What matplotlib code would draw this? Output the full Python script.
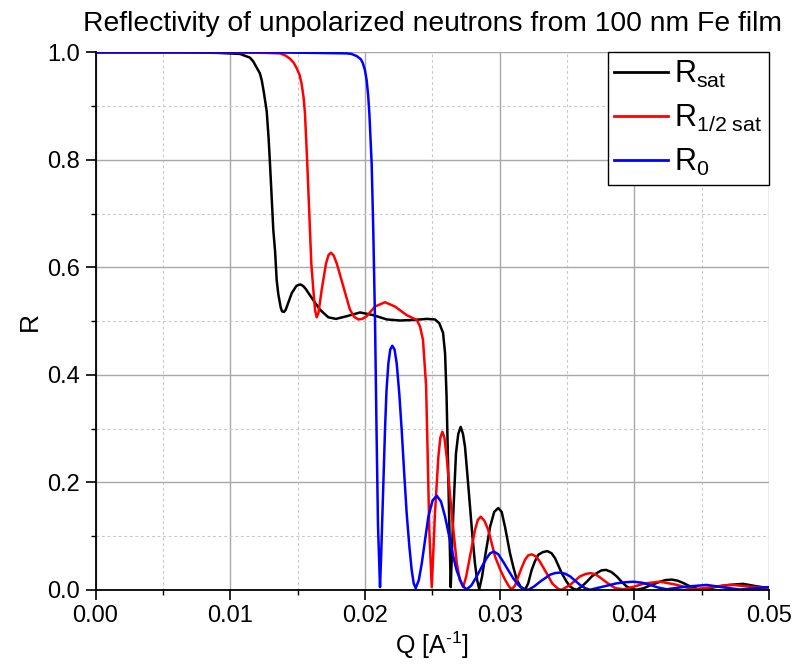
import matplotlib
matplotlib.use("Agg")
import matplotlib.pyplot as plt
from matplotlib.ticker import MultipleLocator, FormatStrFormatter

plt.rcParams['font.family'] = ['Liberation Sans', 'DejaVu Sans']
plt.rcParams['mathtext.fontset'] = 'custom'
plt.rcParams['mathtext.rm'] = 'Liberation Sans'
plt.rcParams['mathtext.it'] = 'Liberation Sans:italic'
plt.rcParams['mathtext.bf'] = 'Liberation Sans:bold'

# ---- data (Q in 1/A, R) ----
q_sat = [0.0, 0.006, 0.009, 0.01073, 0.01147, 0.01171, 0.0122, 0.01234, 0.0125, 0.01271,
         0.01285, 0.01295, 0.0132, 0.01333, 0.01345, 0.01357, 0.01375, 0.01385, 0.01399, 0.01412,
         0.01425, 0.01457, 0.0149, 0.01505, 0.01523, 0.01542, 0.0156, 0.01592, 0.0163, 0.01667,
         0.01728, 0.01785, 0.01865, 0.01964, 0.02062, 0.02162, 0.02261, 0.02359, 0.02459, 0.0252,
         0.02552, 0.0258, 0.02595, 0.02606, 0.02615, 0.02624, 0.02637, 0.02646, 0.02656, 0.02676,
         0.02693, 0.02711, 0.02728, 0.02743, 0.02762, 0.0278, 0.02798, 0.02817, 0.02833, 0.02849,
         0.0287, 0.02892, 0.02929, 0.0296, 0.0299, 0.03015, 0.0304, 0.03077, 0.03102, 0.03127,
         0.03155, 0.03189, 0.03212, 0.03238, 0.03262, 0.03287, 0.0332, 0.03354, 0.03385, 0.03411,
         0.03436, 0.03461, 0.03495, 0.03523, 0.03548, 0.03572, 0.0361, 0.03647, 0.03685, 0.03721,
         0.03755, 0.0379, 0.0383, 0.03869, 0.03905, 0.03944, 0.0398, 0.04018, 0.0407, 0.04117,
         0.04191, 0.0423, 0.04278, 0.0432, 0.0436, 0.044, 0.04438, 0.04475, 0.04512, 0.046,
         0.047, 0.04809, 0.04896, 0.05]
r_sat = [1.0, 1.0, 0.999, 0.997, 0.99, 0.983, 0.961, 0.948, 0.925, 0.89,
         0.84, 0.794, 0.669, 0.63, 0.576, 0.55, 0.525, 0.518, 0.517, 0.521,
         0.53, 0.552, 0.565, 0.567, 0.568, 0.565, 0.56, 0.548, 0.534, 0.521,
         0.507, 0.504, 0.509, 0.516, 0.511, 0.503, 0.501, 0.502, 0.504, 0.503,
         0.496, 0.478, 0.44, 0.36, 0.26, 0.15, 0.005, 0.07, 0.142, 0.254,
         0.29, 0.303, 0.29, 0.266, 0.21, 0.155, 0.10, 0.049, 0.018, 0.001,
         0.025, 0.062, 0.117, 0.145, 0.152, 0.145, 0.117, 0.068, 0.042, 0.019,
         0.006, 0.0, 0.012, 0.037, 0.053, 0.065, 0.07, 0.072, 0.068, 0.059,
         0.045, 0.031, 0.016, 0.006, 0.002, 0.0, 0.006, 0.015, 0.025, 0.031,
         0.036, 0.037, 0.033, 0.025, 0.015, 0.006, 0.002, 0.0, 0.003, 0.008,
         0.015, 0.018, 0.019, 0.017, 0.013, 0.008, 0.004, 0.001, 0.0, 0.005,
         0.009, 0.011, 0.007, 0.003]

q_half = [0.0, 0.009, 0.0125, 0.0137, 0.0141, 0.01444, 0.0147, 0.01494, 0.01515, 0.01531,
          0.01545, 0.01555, 0.01572, 0.01587, 0.01602, 0.01617, 0.0163, 0.01642, 0.01655, 0.01679,
          0.01711, 0.0173, 0.01748, 0.01768, 0.01791, 0.0184, 0.01889, 0.0192, 0.01951, 0.0198,
          0.02013, 0.02075, 0.02149, 0.02223, 0.0231, 0.02385, 0.02409, 0.02431, 0.02454, 0.02465,
          0.02478, 0.02496, 0.02506, 0.0252, 0.02545, 0.0256, 0.02575, 0.0259, 0.02607, 0.02644,
          0.02682, 0.02705, 0.0273, 0.02752, 0.0278, 0.02817, 0.02838, 0.0286, 0.02888, 0.02916,
          0.02966, 0.03005, 0.0304, 0.0307, 0.0309, 0.03115, 0.03139, 0.03165, 0.03189, 0.03212,
          0.03238, 0.0327, 0.033, 0.03332, 0.03362, 0.0339, 0.03424, 0.0344, 0.03461, 0.03523,
          0.0356, 0.03597, 0.03635, 0.03671, 0.0371, 0.03745, 0.03782, 0.0382, 0.0386, 0.0392,
          0.04, 0.0408, 0.04191, 0.043, 0.04438, 0.0455, 0.0466, 0.04735, 0.0485, 0.05]
r_half = [1.0, 1.0, 0.999, 0.998, 0.994, 0.988, 0.981, 0.97, 0.958, 0.94,
          0.915, 0.886, 0.793, 0.70, 0.607, 0.558, 0.52, 0.507, 0.515, 0.558,
          0.607, 0.623, 0.627, 0.622, 0.607, 0.564, 0.521, 0.508, 0.503, 0.504,
          0.509, 0.527, 0.535, 0.527, 0.511, 0.502, 0.49, 0.465, 0.38, 0.26,
          0.11, 0.005, 0.06, 0.142, 0.247, 0.283, 0.294, 0.283, 0.247, 0.142,
          0.049, 0.018, 0.005, 0.025, 0.062, 0.111, 0.13, 0.136, 0.128, 0.111,
          0.062, 0.037, 0.019, 0.006, 0.001, 0.008, 0.025, 0.042, 0.056, 0.064,
          0.066, 0.062, 0.052, 0.038, 0.025, 0.012, 0.004, 0.001, 0.0, 0.009,
          0.017, 0.025, 0.029, 0.031, 0.029, 0.023, 0.016, 0.009, 0.003, 0.001,
          0.006, 0.012, 0.015, 0.01, 0.001, 0.004, 0.008, 0.009, 0.006, 0.003]

q_zero = [0.0, 0.012, 0.016, 0.01865, 0.019, 0.01939, 0.0197, 0.01984, 0.02, 0.02013,
          0.02024, 0.02033, 0.0205, 0.02062, 0.02075, 0.02086, 0.02097, 0.02112, 0.0212, 0.02131,
          0.02149, 0.0216, 0.02174, 0.02188, 0.02203, 0.0222, 0.02236, 0.02255, 0.02273, 0.02292,
          0.0231, 0.0233, 0.02347, 0.02362, 0.02377, 0.024, 0.02422, 0.02446, 0.02471, 0.02502,
          0.02533, 0.02565, 0.02595, 0.02625, 0.02656, 0.0268, 0.02706, 0.0273, 0.02756, 0.0279,
          0.0283, 0.02868, 0.02904, 0.0293, 0.02958, 0.0299, 0.03027, 0.03065, 0.03102, 0.03135,
          0.03164, 0.0319, 0.03213, 0.03255, 0.033, 0.03374, 0.0341, 0.03448, 0.03485, 0.03523,
          0.0356, 0.03597, 0.03635, 0.03671, 0.0377, 0.03869, 0.0393, 0.03993, 0.0406, 0.04117,
          0.0418, 0.0424, 0.04391, 0.04538, 0.04673, 0.04785, 0.04896, 0.05]
r_zero = [1.0, 1.0, 0.999, 0.998, 0.997, 0.993, 0.987, 0.98, 0.967, 0.948,
          0.92, 0.886, 0.793, 0.669, 0.5, 0.3, 0.12, 0.005, 0.06, 0.15,
          0.297, 0.37, 0.421, 0.447, 0.454, 0.447, 0.421, 0.365, 0.297, 0.215,
          0.142, 0.08, 0.037, 0.012, 0.003, 0.018, 0.049, 0.092, 0.136, 0.166,
          0.175, 0.164, 0.136, 0.1, 0.062, 0.037, 0.019, 0.006, 0.001, 0.008,
          0.025, 0.043, 0.059, 0.068, 0.071, 0.066, 0.052, 0.036, 0.021, 0.01,
          0.003, 0.001, 0.0, 0.006, 0.015, 0.028, 0.031, 0.032, 0.03, 0.025,
          0.017, 0.009, 0.003, 0.0, 0.006, 0.012, 0.014, 0.015, 0.013, 0.009,
          0.004, 0.001, 0.006, 0.009, 0.004, 0.0005, 0.003, 0.005]

labels = [r'R$_{\mathrm{sat}}$', r'R$_{\mathrm{1/2\ sat}}$', r'R$_{\mathrm{0}}$']
colors = ['#000000', '#ff0000', '#0000ff']
title = 'Reflectivity of unpolarized neutrons from 100 nm Fe film'

fig = plt.figure(figsize=(7.92, 6.68), dpi=100)
ax = fig.add_axes([0.1206, 0.1171, 0.8504, 0.8046])

for q, r, lab, c in zip([q_sat, q_half, q_zero], [r_sat, r_half, r_zero], labels, colors):
    ax.plot(q, r, color=c, lw=1.8, label=lab, solid_joinstyle='round')

ax.set_xlim(0, 0.05)
ax.set_ylim(0, 1.0)
ax.xaxis.set_major_locator(MultipleLocator(0.01))
ax.xaxis.set_minor_locator(MultipleLocator(0.005))
ax.yaxis.set_major_locator(MultipleLocator(0.2))
ax.yaxis.set_minor_locator(MultipleLocator(0.1))
ax.xaxis.set_major_formatter(FormatStrFormatter('%.2f'))
ax.yaxis.set_major_formatter(FormatStrFormatter('%.1f'))

ax.grid(which='major', color='#a8a8a8', lw=1.0, ls='-')
ax.grid(which='minor', color='#c8c8c8', lw=0.8, ls=(0, (2.5, 2.5)))
ax.set_axisbelow(True)

for s in ['top', 'right']:
    ax.spines[s].set_visible(False)
for s in ['left', 'bottom']:
    ax.spines[s].set_linewidth(1.3)
ax.tick_params(which='major', direction='out', length=7, width=1.2, labelsize=17, pad=4)
ax.tick_params(which='minor', direction='out', length=3.5, width=1.0)

ax.set_xlabel(r'Q [A$^{\text{-1}}$]', fontsize=18, labelpad=2)
ax.set_ylabel('R', fontsize=19, labelpad=4)
ax.set_title(title, fontsize=20.3, pad=15)

leg = ax.legend(loc='upper right', fontsize=22, frameon=True, fancybox=False,
                edgecolor='black', framealpha=1, borderaxespad=0, borderpad=0.22,
                handlelength=1.75, handletextpad=0.2, labelspacing=0.42)
leg.get_frame().set_linewidth(1.0)
for l in leg.get_lines():
    l.set_linewidth(2.0)

fig.savefig('out.png', dpi=100)
